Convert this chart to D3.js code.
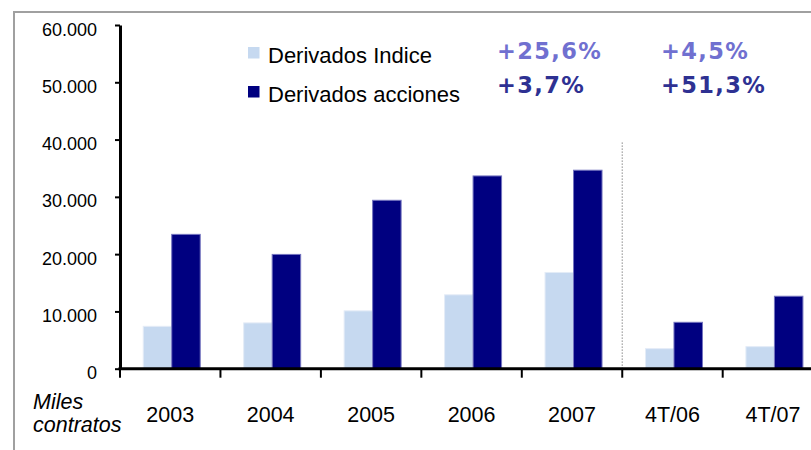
<!DOCTYPE html>
<html>
<head>
<meta charset="utf-8">
<script src="https://cdn.jsdelivr.net/npm/d3@7"></script>
<style>
  html, body { margin: 0; padding: 0; background: #fff; }
  svg { display: block; }
</style>
</head>
<body>
<svg id="chart" width="811" height="450"></svg>
<script>
// ---- data ----
const categories = ["2003", "2004", "2005", "2006", "2007", "4T/06", "4T/07"];
const seriesNames = ["Derivados Indice", "Derivados acciones"];
const derivadosIndice = [7400, 8000, 10100, 12900, 16800, 3500, 3850];
const derivadosAcciones = [23450, 19950, 29400, 33650, 34650, 8100, 12650];
const yTicks = [0, 10000, 20000, 30000, 40000, 50000, 60000];
const growthIndice = ["+25,6%", "+4,5%"];
const growthAcciones = ["+3,7%", "+51,3%"];
const unitLabel = ["Miles", "contratos"];

// ---- layout ----
const W = 811, H = 450;
const x0 = 120, yZero = 368.7, yTop = 25;
const step = 100.45;
const colors = ["#c6d9f0", "#000080"];
const strokes = ["#e4ecf7", "#7474bf"];
const pctColors = ["#7070d0", "#2e3192"];

const svg = d3.select("#chart");

// frame
svg.append("path")
  .attr("d", `M14,${H} L14,12 L${W},12`)
  .attr("fill", "none").attr("stroke", "#a0a0a0").attr("stroke-width", 2);

const x = d3.scaleBand().domain(categories)
  .range([x0, x0 + step * categories.length])
  .paddingInner(0.4326).paddingOuter(0.2163);
const xs = d3.scaleBand().domain(seriesNames).range([0, x.bandwidth()]);
const y = d3.scaleLinear().domain([0, 60000]).range([yZero, yTop]);

const locale = d3.formatLocale({ decimal: ",", thousands: ".", grouping: [3], currency: ["", ""] });
const fmt = locale.format(",");

// bars
const seriesVals = [derivadosIndice, derivadosAcciones];
seriesNames.forEach((s, si) => {
  svg.append("g").selectAll("rect").data(categories).join("rect")
    .attr("x", (c) => x(c) + xs(s) + 1.5)
    .attr("y", (c, i) => y(seriesVals[si][i]))
    .attr("width", xs.bandwidth())
    .attr("height", (c, i) => yZero - y(seriesVals[si][i]))
    .attr("fill", colors[si])
    .attr("stroke", strokes[si]).attr("stroke-width", 1);
});

// dotted separator between 2007 and 4T/06
const sepX = x("4T/06") - x.step() * x.paddingInner() / 2;
svg.append("line")
  .attr("x1", sepX).attr("x2", sepX)
  .attr("y1", y(39500)).attr("y2", yZero)
  .attr("stroke", "#8a8a8a").attr("stroke-width", 1.2)
  .attr("stroke-dasharray", "1.2,1.8");

// y axis
const yAxis = svg.append("g").attr("transform", `translate(${x0},0)`)
  .call(d3.axisLeft(y).tickValues(yTicks).tickFormat(fmt).tickSize(5).tickSizeOuter(0).tickPadding(18));
yAxis.select(".domain").attr("stroke", "#000").attr("stroke-width", 3);
yAxis.selectAll(".tick line").attr("stroke", "#000").attr("stroke-width", 2);
yAxis.selectAll(".tick text")
  .attr("font-family", "'Liberation Sans', Arial, sans-serif")
  .attr("font-size", 18).attr("fill", "#000").attr("dy", "0.56em");

// x axis line
svg.append("line")
  .attr("x1", x0 - 1.5).attr("x2", W)
  .attr("y1", yZero).attr("y2", yZero)
  .attr("stroke", "#000").attr("stroke-width", 3);

// x ticks at band boundaries
svg.append("g").selectAll("line").data(categories).join("line")
  .attr("x1", (c) => x(c) - x.step() * x.paddingInner() / 2)
  .attr("x2", (c) => x(c) - x.step() * x.paddingInner() / 2)
  .attr("y1", yZero).attr("y2", yZero + 9)
  .attr("stroke", "#000").attr("stroke-width", 2);

// x labels
svg.append("g").selectAll("text").data(categories).join("text")
  .attr("x", (c) => x(c) + x.bandwidth() / 2)
  .attr("y", 422)
  .attr("text-anchor", "middle")
  .attr("font-family", "'Liberation Sans', Arial, sans-serif")
  .attr("font-size", 21.5).attr("fill", "#000")
  .text((c) => c);

// unit label
svg.append("g").selectAll("text").data(unitLabel).join("text")
  .attr("x", 33).attr("y", (d, i) => 409 + i * 23)
  .attr("font-family", "'Liberation Sans', Arial, sans-serif")
  .attr("font-style", "italic")
  .attr("font-size", 21.5).attr("fill", "#000")
  .text((d) => d);

// legend
const leg = svg.append("g");
seriesNames.forEach((s, i) => {
  leg.append("rect")
    .attr("x", 248).attr("y", 47 + i * 39)
    .attr("width", 11.5).attr("height", 11.5)
    .attr("fill", colors[i]);
  leg.append("text")
    .attr("x", 268).attr("y", 63 + i * 39)
    .attr("font-family", "'Liberation Sans', Arial, sans-serif")
    .attr("font-size", 22).attr("fill", "#000")
    .text(s);
});

// growth percentages
[growthIndice, growthAcciones].forEach((arr, row) => {
  arr.forEach((t, col) => {
    svg.append("text")
      .attr("x", col === 0 ? 497 : 661)
      .attr("y", 59 + row * 34)
      .attr("font-family", "'DejaVu Sans', Verdana, sans-serif")
      .attr("font-weight", "bold")
      .attr("font-size", 22.5)
      .attr("letter-spacing", 1.4)
      .attr("fill", pctColors[row])
      .text(t);
  });
});
</script>
</body>
</html>
